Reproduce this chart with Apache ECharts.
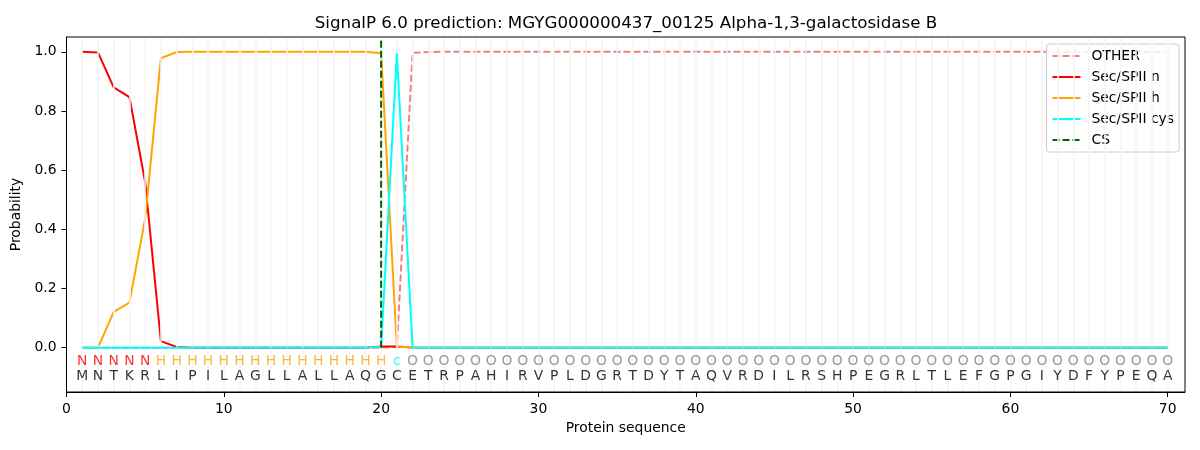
<!DOCTYPE html>
<html>
<head>
    <meta charset="utf-8">
    <title>SignalP 6.0 prediction</title>
    <script src="https://cdn.jsdelivr.net/npm/echarts@6/dist/echarts.min.js"></script>
    <style>
        body { margin: 0; background: #fff; }
    </style>
</head>
<body>
    <div id="main" style="width: 1200px;height:450px;"></div>
    <script type="text/javascript">
        // sequence and per-residue region labels
        var sequence = 'MNTKRLIPILAGLLALLAQGCETRPAHIRVPLDGRTDYTAQVRDILRSHPEGRLTLEFGPGIYDFYPEQA'.split('');
        var regions = 'NNNNNHHHHHHHHHHHHHHHcOOOOOOOOOOOOOOOOOOOOOOOOOOOOOOOOOOOOOOOOOOOOOOOOO'.split('');
        var positions = sequence.map(function (s, i) { return i + 1; });

        // probabilities per position (1..70)
        var other = [0, 0, 0, 0, 0, 0, 0, 0, 0, 0, 0, 0, 0, 0, 0, 0, 0, 0, 0, 0,
            0.003, 0.997, 0.999, 1, 1, 1, 1, 1, 1, 1, 1, 1, 1, 1, 1, 1, 1, 1, 1, 1,
            1, 1, 1, 1, 1, 1, 1, 1, 1, 1, 1, 1, 1, 1, 1, 1, 1, 1, 1, 1,
            1, 1, 1, 1, 1, 1, 1, 1, 1, 1];
        var secN = [1.0, 0.998, 0.88, 0.847, 0.56, 0.022, 0.002, 0, 0, 0, 0, 0, 0, 0, 0, 0, 0, 0, 0, 0.004,
            0.004, 0, 0, 0, 0, 0, 0, 0, 0, 0, 0, 0, 0, 0, 0, 0, 0, 0, 0, 0,
            0, 0, 0, 0, 0, 0, 0, 0, 0, 0, 0, 0, 0, 0, 0, 0, 0, 0, 0, 0,
            0, 0, 0, 0, 0, 0, 0, 0, 0, 0];
        var secH = [0, 0, 0.121, 0.152, 0.436, 0.978, 0.999, 1, 1, 1, 1, 1, 1, 1, 1, 1, 1, 1, 1, 0.995,
            0.004, 0, 0, 0, 0, 0, 0, 0, 0, 0, 0, 0, 0, 0, 0, 0, 0, 0, 0, 0,
            0, 0, 0, 0, 0, 0, 0, 0, 0, 0, 0, 0, 0, 0, 0, 0, 0, 0, 0, 0,
            0, 0, 0, 0, 0, 0, 0, 0, 0, 0];
        var secCys = [0, 0, 0, 0, 0, 0, 0, 0, 0, 0, 0, 0, 0, 0, 0, 0, 0, 0, 0, 0.003,
            0.995, 0, 0, 0, 0, 0, 0, 0, 0, 0, 0, 0, 0, 0, 0, 0, 0, 0, 0, 0,
            0, 0, 0, 0, 0, 0, 0, 0, 0, 0, 0, 0, 0, 0, 0, 0, 0, 0, 0, 0,
            0, 0, 0, 0, 0, 0, 0, 0, 0, 0];
        var csPos = 20;
        var csTop = 1.04;

        var xTicks = [0, 10, 20, 30, 40, 50, 60, 70];
        var yTicks = [0, 0.2, 0.4, 0.6, 0.8, 1.0];

        var regionColors = { N: '#ff0000', H: '#ffa500', c: '#00ffff', O: '#808080' };
        var font = 'DejaVu Sans';

        function pairs(values) {
            return values.map(function (v, i) { return [positions[i], v]; });
        }

        var myChart = echarts.init(document.getElementById('main'));

        var option = {
            animation: false,
            textStyle: { fontFamily: font },
            title: {
                text: 'SignalP 6.0 prediction: MGYG000000437_00125 Alpha-1,3-galactosidase B',
                left: 621,
                top: 10,
                textAlign: 'center',
                textStyle: { fontFamily: font, fontSize: 16.7, fontWeight: 'normal', color: '#000' }
            },
            grid: {
                left: 66.5, right: 15, top: 37, bottom: 58, z: 10,
                show: true, borderColor: '#000', borderWidth: 1, backgroundColor: 'transparent'
            },
            legend: {
                orient: 'vertical',
                left: 1046.5,
                top: 44,
                padding: [5, 5, 5, 5],
                itemWidth: 28,
                itemHeight: 14,
                itemGap: 7,
                backgroundColor: 'rgba(255,255,255,0.85)',
                borderColor: '#cccccc',
                borderWidth: 1,
                borderRadius: 3,
                itemStyle: { opacity: 0 },
                textStyle: { fontFamily: font, fontSize: 13.9, color: '#000', padding: [0, 0, 0, 6] },
                data: ['OTHER', 'Sec/SPII n', 'Sec/SPII h', 'Sec/SPII cys', 'CS']
            },
            xAxis: {
                type: 'value',
                min: 0,
                max: 71.1,
                z: 10,
                name: 'Protein sequence',
                nameLocation: 'middle',
                nameGap: 28,
                nameTextStyle: { fontFamily: font, fontSize: 13.9, color: '#000' },
                axisLine: { onZero: false, lineStyle: { color: '#000' } },
                axisTick: { customValues: xTicks, length: 5, lineStyle: { color: '#000' } },
                axisLabel: { customValues: xTicks, margin: 10, fontFamily: font, fontSize: 13.9, color: '#000' },
                splitLine: { show: false }
            },
            yAxis: {
                type: 'value',
                min: -0.15,
                max: 1.05,
                z: 10,
                name: 'Probability',
                nameLocation: 'middle',
                nameGap: 37,
                nameTextStyle: { fontFamily: font, fontSize: 13.9, color: '#000' },
                axisLine: { show: true, onZero: false, lineStyle: { color: '#000' } },
                axisTick: { show: true, customValues: yTicks, length: 5, lineStyle: { color: '#000' } },
                axisLabel: {
                    customValues: yTicks, margin: 10, fontFamily: font, fontSize: 13.9, color: '#000',
                    formatter: function (v) { return v.toFixed(1); }
                },
                splitLine: { show: false }
            },
            series: [
                {
                    name: 'grid',
                    type: 'line',
                    data: [],
                    z: 0,
                    silent: true,
                    markLine: {
                        silent: true,
                        symbol: 'none',
                        label: { show: false },
                        lineStyle: { color: '#f5f5f5', width: 1.5, type: 'solid', opacity: 1 },
                        data: positions.map(function (p) { return { xAxis: p }; })
                    }
                },
                {
                    name: 'OTHER',
                    type: 'line',
                    data: pairs(other),
                    symbol: 'none',
                    lineStyle: { color: '#f08080', width: 2, type: [7, 3] },
                    itemStyle: { color: '#f08080' },
                    z: 2
                },
                {
                    name: 'Sec/SPII n',
                    type: 'line',
                    data: pairs(secN),
                    symbol: 'none',
                    lineStyle: { color: '#ff0000', width: 2 },
                    itemStyle: { color: '#ff0000' },
                    z: 3
                },
                {
                    name: 'Sec/SPII h',
                    type: 'line',
                    data: pairs(secH),
                    symbol: 'none',
                    lineStyle: { color: '#ffa500', width: 2 },
                    itemStyle: { color: '#ffa500' },
                    z: 4
                },
                {
                    name: 'Sec/SPII cys',
                    type: 'line',
                    data: pairs(secCys),
                    symbol: 'none',
                    lineStyle: { color: '#00ffff', width: 2 },
                    itemStyle: { color: '#00ffff' },
                    z: 5
                },
                {
                    name: 'CS',
                    type: 'line',
                    data: [[csPos, 0], [csPos, csTop]],
                    symbol: 'none',
                    lineStyle: { color: '#006400', width: 2, type: [7, 3] },
                    itemStyle: { color: '#006400' },
                    z: 6
                },
                {
                    name: 'regions',
                    type: 'scatter',
                    symbolSize: 1,
                    itemStyle: { color: 'rgba(0,0,0,0)' },
                    silent: true,
                    z: 7,
                    data: regions.map(function (r, i) {
                        return {
                            value: [positions[i], -0.047],
                            label: {
                                show: true, position: 'inside', formatter: r,
                                fontFamily: font, fontSize: 13.9, color: regionColors[r]
                            }
                        };
                    })
                },
                {
                    name: 'sequence',
                    type: 'scatter',
                    symbolSize: 1,
                    itemStyle: { color: 'rgba(0,0,0,0)' },
                    silent: true,
                    z: 7,
                    data: sequence.map(function (s, i) {
                        return {
                            value: [positions[i], -0.098],
                            label: {
                                show: true, position: 'inside', formatter: s,
                                fontFamily: font, fontSize: 13.9, color: '#000'
                            }
                        };
                    })
                }
            ]
        };

        myChart.setOption(option);
    </script>
</body>
</html>
